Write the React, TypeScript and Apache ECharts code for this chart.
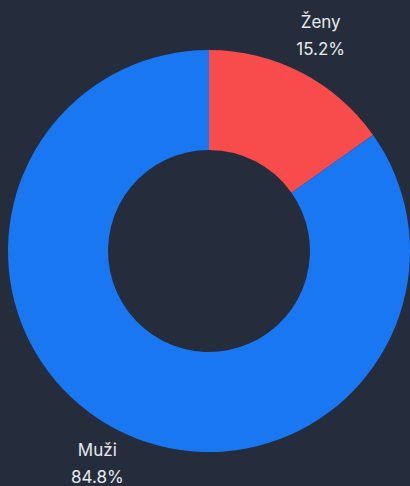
import React, { useEffect, useRef } from "react";
import * as echarts from "echarts";

const categories = ["Ženy", "Muži"];
const values = [15.2, 84.8];
const colors = ["#f84b4c", "#1a77f2"];

const CX = 209;
const CY = 251;
const R_IN = 101;
const R_OUT = 201;
const LABEL_R = 243;

export default function App() {
  const ref = useRef<HTMLDivElement>(null);
  useEffect(() => {
    const chart = echarts.init(ref.current!, null, { renderer: "svg" });
    const total = values.reduce((a, b) => a + b, 0);
    const mids: number[] = [];
    let acc = 0;
    values.forEach((v) => {
      const mid = 90 - ((acc + v / 2) / total) * 360;
      mids.push(mid);
      acc += v;
    });
    chart.setOption({
      animation: false,
      backgroundColor: "#252d3d",
      series: [
        {
          type: "pie",
          center: [CX, CY],
          radius: [R_IN, R_OUT],
          startAngle: 90,
          clockwise: true,
          data: categories.map((c, i) => ({
            name: c,
            value: values[i],
            itemStyle: { color: colors[i] },
          })),
          label: {
            show: true,
            position: "outside",
            formatter: (p: any) => `${p.name}\n${values[p.dataIndex].toFixed(1)}%`,
            color: "#e8e9ec",
            fontSize: 17,
            lineHeight: 27,
            fontFamily: "Inter, 'Noto Sans', sans-serif",
          },
          labelLine: { show: false },
          labelLayout: (params: any) => {
            const a = (mids[params.dataIndex] * Math.PI) / 180;
            return {
              x: CX + LABEL_R * Math.cos(a),
              y: Math.min(CY - LABEL_R * Math.sin(a), 463),
              align: "center",
              verticalAlign: "middle",
            };
          },
        },
      ],
    });
    return () => chart.dispose();
  }, []);
  return (
    <div
      ref={ref}
      style={{ position: "fixed", left: 0, top: 0, width: 410, height: 486 }}
    />
  );
}
